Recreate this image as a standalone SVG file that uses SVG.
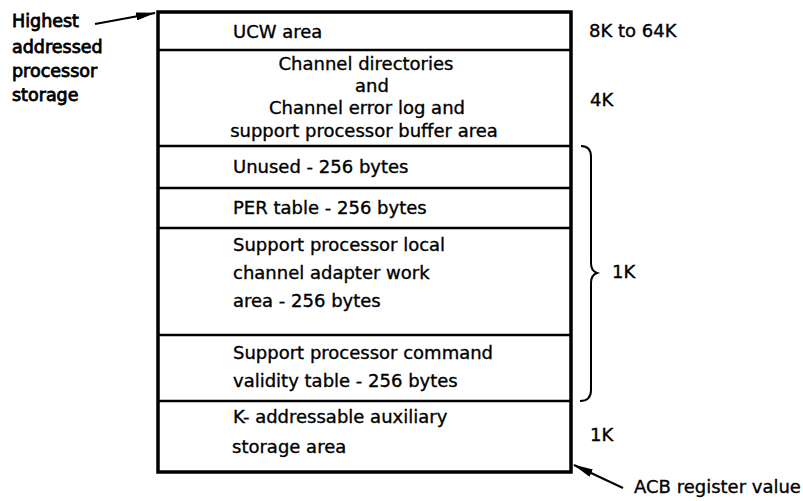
<svg xmlns="http://www.w3.org/2000/svg" width="803" height="501" viewBox="0 0 803 501">
<defs>
<style>
text{font-family:"DejaVu Sans","Liberation Sans",sans-serif;font-size:18px;fill:#000;stroke:#000;stroke-width:0.35}
.lbl{font-size:17.5px;stroke-width:0.8}
.frame{fill:#fff;stroke:#000;stroke-width:3.5}
.div{stroke:#000;stroke-width:2.5;fill:none}
.conn{stroke:#000;stroke-width:2;fill:none}
</style>
<marker id="ah" viewBox="0 0 20 8" refX="19" refY="4" markerWidth="20" markerHeight="8" markerUnits="userSpaceOnUse" orient="auto"><path d="M0,0 L20,4 L0,8 z" fill="#000"/></marker>
</defs>
<rect width="803" height="501" fill="#fff"/>
<g id="storage-box">
<rect class="frame" x="158" y="12" width="413" height="460"/>
</g>
<g id="ucw">
<line class="div" x1="158" y1="50" x2="571" y2="50"/>
<text x="233" y="38">UCW area</text>
</g>
<g id="channel-dir">
<line class="div" x1="158" y1="146" x2="571" y2="146"/>
<text x="366" y="70" text-anchor="middle">Channel directories</text>
<text x="372" y="92" text-anchor="middle">and</text>
<text x="367" y="114" text-anchor="middle">Channel error log and</text>
<text x="364" y="137" text-anchor="middle">support processor buffer area</text>
</g>
<g id="unused">
<line class="div" x1="158" y1="188" x2="571" y2="188"/>
<text x="233" y="173">Unused - 256 bytes</text>
</g>
<g id="per">
<line class="div" x1="158" y1="228" x2="571" y2="228"/>
<text x="233" y="214">PER table - 256 bytes</text>
</g>
<g id="local-channel">
<line class="div" x1="158" y1="335" x2="571" y2="335"/>
<text x="233" y="251">Support processor local</text>
<text x="233" y="279">channel adapter work</text>
<text x="233" y="307">area - 256 bytes</text>
</g>
<g id="cmd-validity">
<line class="div" x1="158" y1="401" x2="571" y2="401"/>
<text x="233" y="359">Support processor command</text>
<text x="233" y="387">validity table - 256 bytes</text>
</g>
<g id="aux">
<text x="233" y="423">K- addressable auxiliary</text>
<text x="232" y="453">storage area</text>
</g>
<g id="highest-label">
<text class="lbl" x="12" y="27">Highest</text>
<text class="lbl" x="12" y="53">addressed</text>
<text class="lbl" x="12" y="77">processor</text>
<text class="lbl" x="12" y="101">storage</text>
</g>
<g id="sizes">
<text x="589" y="37">8K to 64K</text>
<text x="590" y="106">4K</text>
<text x="612" y="278">1K</text>
<text x="590" y="441">1K</text>
</g>
<g id="acb-label">
<text x="634" y="493">ACB register value</text>
</g>
<g id="connectors">
<line class="conn" x1="95" y1="24" x2="155" y2="13" marker-end="url(#ah)"/>
<line class="conn" x1="623" y1="488" x2="574" y2="465" marker-end="url(#ah)"/>
<path class="conn" d="M581,146 Q591,146 591,157 L591,263 Q591,271 597,273 Q591,275 591,283 L591,390 Q591,401 580,401"/>
</g>
</svg>
